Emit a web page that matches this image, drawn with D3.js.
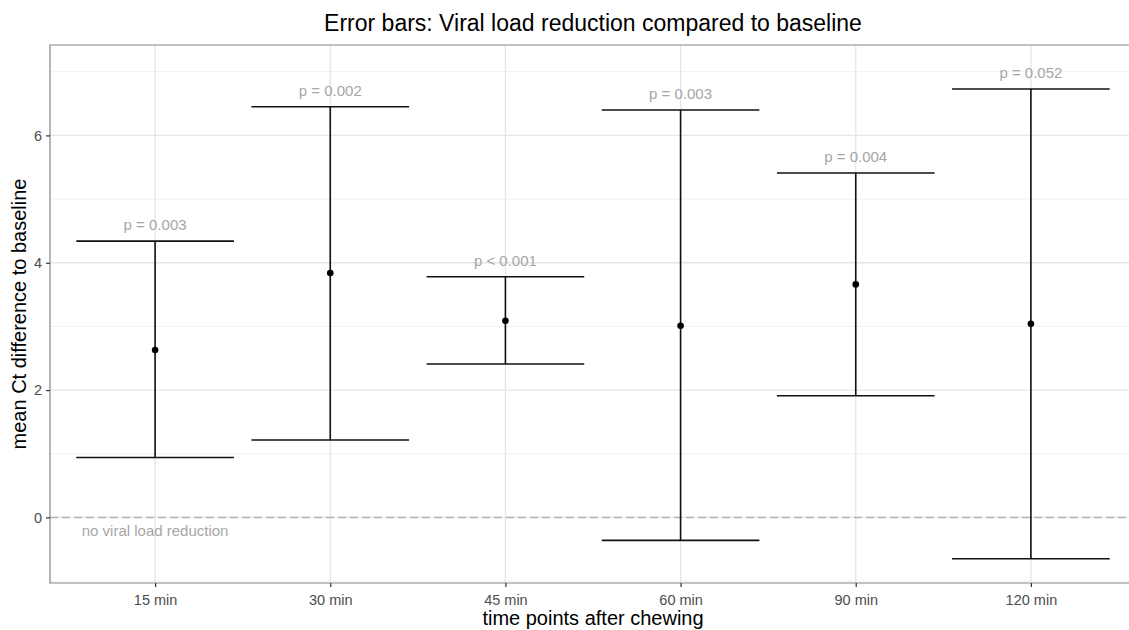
<!DOCTYPE html>
<html>
<head>
<meta charset="utf-8">
<script src="https://cdn.jsdelivr.net/npm/d3@7"></script>
<style>
    body { margin: 0; background: #fff; overflow: hidden; }
    svg { display: block; font-family: "Liberation Sans", Arial, sans-serif; }
</style>
</head>
<body>
<div id="chart"></div>
<script>
// data
const timePoints = ['15 min', '30 min', '45 min', '60 min', '90 min', '120 min'];
const meanDiff = [2.63, 3.84, 3.09, 3.01, 3.66, 3.04];
const ciLower = [0.94, 1.215, 2.41, -0.36, 1.91, -0.65];
const ciUpper = [4.34, 6.45, 3.78, 6.40, 5.41, 6.73];
const pLabels = ['p = 0.003', 'p = 0.002', 'p < 0.001', 'p = 0.003', 'p = 0.004', 'p = 0.052'];
const yMajor = [0, 2, 4, 6];
const yMinor = [-1, 1, 3, 5, 7];

const width = 1129;
const height = 630;
// the panel runs past the right edge of the picture, as in the original
const margin = { top: 45, right: -7, bottom: 47, left: 50 };

const svg = d3.select('#chart').append('svg')
    .attr('width', width)
    .attr('height', height);

const x = d3.scalePoint()
    .domain(timePoints)
    .range([margin.left, width - margin.right])
    .padding(0.6);

const y = d3.scaleLinear()
    .domain([-1.03, 7.42])
    .range([height - margin.bottom, margin.top]);

const pLeft = margin.left, pRight = width - margin.right;
const pTop = margin.top, pBottom = height - margin.bottom;

// grid
const grid = svg.append('g');
grid.selectAll('.minor').data(yMinor).enter().append('line')
    .attr('x1', pLeft).attr('x2', pRight)
    .attr('y1', d => y(d)).attr('y2', d => y(d))
    .attr('stroke', '#f0f0f0').attr('stroke-width', 1);
grid.selectAll('.major').data(yMajor).enter().append('line')
    .attr('x1', pLeft).attr('x2', pRight)
    .attr('y1', d => y(d)).attr('y2', d => y(d))
    .attr('stroke', '#e6e6e6').attr('stroke-width', 1.3);
grid.selectAll('.vert').data(timePoints).enter().append('line')
    .attr('x1', d => x(d)).attr('x2', d => x(d))
    .attr('y1', pTop).attr('y2', pBottom)
    .attr('stroke', '#e6e6e6').attr('stroke-width', 1.3);

// reference line at zero
svg.append('line')
    .attr('x1', pLeft).attr('x2', pRight)
    .attr('y1', y(0)).attr('y2', y(0))
    .attr('stroke', '#b3b3b3').attr('stroke-width', 1.5)
    .attr('stroke-dasharray', '8,4');

svg.append('text')
    .attr('x', x(timePoints[0]))
    .attr('y', y(0) + 19)
    .attr('text-anchor', 'middle')
    .attr('fill', '#a6a6a6')
    .style('font-size', '15px')
    .text('no viral load reduction');

// error bars
const halfW = x.step() * 0.45;
const bars = svg.append('g')
    .selectAll('g')
    .data(timePoints)
    .enter().append('g');

bars.append('line')
    .attr('x1', d => x(d)).attr('x2', d => x(d))
    .attr('y1', (d, i) => y(ciLower[i])).attr('y2', (d, i) => y(ciUpper[i]))
    .attr('stroke', '#111').attr('stroke-width', 1.6);
bars.append('line')
    .attr('x1', d => x(d) - halfW).attr('x2', d => x(d) + halfW)
    .attr('y1', (d, i) => y(ciUpper[i])).attr('y2', (d, i) => y(ciUpper[i]))
    .attr('stroke', '#111').attr('stroke-width', 1.6);
bars.append('line')
    .attr('x1', d => x(d) - halfW).attr('x2', d => x(d) + halfW)
    .attr('y1', (d, i) => y(ciLower[i])).attr('y2', (d, i) => y(ciLower[i]))
    .attr('stroke', '#111').attr('stroke-width', 1.6);
bars.append('circle')
    .attr('cx', d => x(d))
    .attr('cy', (d, i) => y(meanDiff[i]))
    .attr('r', 3.3)
    .attr('fill', '#000');
bars.append('text')
    .attr('x', d => x(d))
    .attr('y', (d, i) => y(ciUpper[i]) - 11)
    .attr('text-anchor', 'middle')
    .attr('fill', '#a6a6a6')
    .style('font-size', '15px')
    .text((d, i) => pLabels[i]);

// panel border (top, left, bottom; the right side is off the picture)
svg.append('path')
    .attr('d', `M${width + 5},${pTop}H${pLeft}V${pBottom}H${width + 5}`)
    .attr('fill', 'none')
    .attr('stroke', '#858585').attr('stroke-width', 1.2);

// axes
const xAxis = svg.append('g')
    .attr('transform', `translate(0,${pBottom})`)
    .call(d3.axisBottom(x).tickSize(4).tickSizeOuter(0));
const yAxis = svg.append('g')
    .attr('transform', `translate(${pLeft},0)`)
    .call(d3.axisLeft(y).tickValues(yMajor).tickSize(4).tickSizeOuter(0));

[xAxis, yAxis].forEach(a => {
    a.select('.domain').remove();
    a.selectAll('.tick line').attr('stroke', '#333').attr('stroke-width', 1.2);
    a.selectAll('.tick text')
        .attr('fill', '#4d4d4d')
        .style('font-size', '14.5px')
        .style('font-family', '"Liberation Sans", Arial, sans-serif');
});
xAxis.selectAll('.tick text').attr('dy', '0.71em').attr('y', 12);
yAxis.selectAll('.tick text').attr('x', -8);

// titles
const cx = (pLeft + pRight) / 2;
svg.append('text')
    .attr('x', cx).attr('y', 31)
    .attr('text-anchor', 'middle')
    .attr('fill', '#000')
    .style('font-size', '23px')
    .text('Error bars: Viral load reduction compared to baseline');

svg.append('text')
    .attr('x', cx).attr('y', 625)
    .attr('text-anchor', 'middle')
    .attr('fill', '#000')
    .style('font-size', '20px')
    .text('time points after chewing');

svg.append('text')
    .attr('transform', `translate(26,${(pTop + pBottom) / 2}) rotate(-90)`)
    .attr('text-anchor', 'middle')
    .attr('fill', '#000')
    .style('font-size', '20px')
    .text('mean Ct difference to baseline');
</script>
</body>
</html>
